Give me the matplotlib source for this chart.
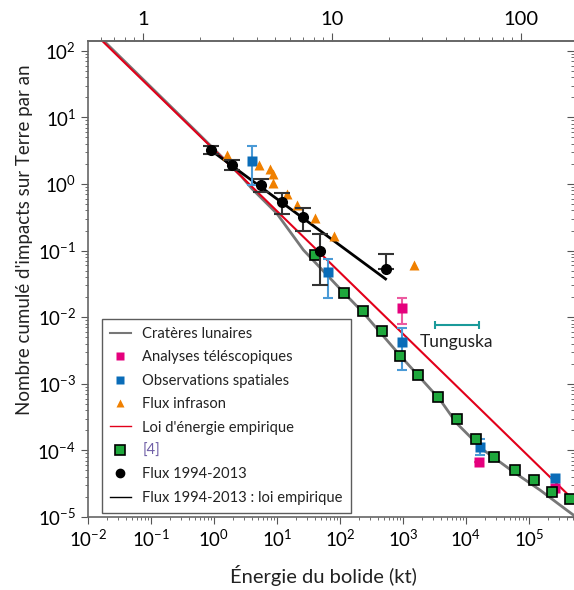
import numpy as np
import matplotlib.pyplot as plt
from matplotlib.lines import Line2D
from matplotlib import ticker

plt.rcParams['font.family'] = ['Lato', 'DejaVu Sans']
plt.rcParams['mathtext.fontset'] = 'custom'
plt.rcParams['mathtext.rm'] = 'Lato'

# --- data (energy in kt, cumulative impacts per year) ---
crater_E = [0.01, 0.56, 2.75, 4.0, 9.9, 26.3, 117, 234, 891, 3890, 7080,
            18800, 56200, 150000, 398000, 562000]
crater_N = [240, 5.75, 1.29, 0.85, 0.363, 0.102, 0.0229, 0.0117, 0.00269,
            0.000575, 0.000257, 0.000102, 4.8e-5, 2.54e-5, 1.27e-5, 1.0e-5]

law_E = [0.01, 562000]
law_N = [227, 1.65e-5]

flux_E = [0.9, 1.9, 5.5, 12.1, 25.6, 48, 537]
flux_N = [3.24, 1.95, 0.97, 0.54, 0.32, 0.10, 0.052]
flux_hi = [3.72, 2.29, 1.20, 0.72, 0.44, 0.176, 0.090]
flux_lo = [2.82, 1.62, 0.76, 0.36, 0.197, 0.030, 0.052]

flux_law_E = [0.88, 530]
flux_law_N = [3.24, 0.0375]

infra_E = [1.63, 5.12, 7.74, 8.54, 8.74, 14.6, 20.5, 40.1, 80.3, 1500]
infra_N = [2.70, 1.95, 1.66, 1.40, 1.05, 0.71, 0.48, 0.31, 0.166, 0.060]

space_E = [3.97, 63.8, 975, 16700, 259000]
space_N = [2.24, 0.0477, 0.0042, 1.14e-4, 3.9e-5]
space_hi = [3.72, 0.0756, 0.0068, 1.5e-4, 3.9e-5]
space_lo = [0.97, 0.0196, 0.0016, 8.5e-5, 3.9e-5]

tele_E = [975, 16100, 259000]
tele_N = [0.0136, 6.6e-5, 2.7e-5]
tele_hi = [0.0196, 6.6e-5, 2.7e-5]
tele_lo = [0.0078, 6.6e-5, 2.7e-5]

ref4_E = [40, 118, 236, 460, 895, 1750, 3560, 7330, 14300, 28300, 60000,
          120000, 232000, 448000]
ref4_N = [0.087, 0.0227, 0.0124, 0.0062, 0.0026, 0.00134, 0.00063, 0.0003,
          0.000147, 8.0e-5, 5.1e-5, 3.6e-5, 2.4e-5, 1.86e-5]

tunguska_E = [3200, 16000]
tunguska_N = 0.0076

blue = '#0a6cb8'
blue_err = '#4a9ad6'
pink = '#e5007d'
pink_err = '#ec5aa0'
orange = '#f08000'
green = '#1ea83c'
teal = '#1a9a9a'

fig = plt.figure(figsize=(5.74, 5.90), dpi=100)
ax = fig.add_axes([88/574, 73/590, 486/574, 476/590])
ax.set_xscale('log')
ax.set_yscale('log')
ax.set_xlim(1e-2, 5.2e5)
ax.set_ylim(1e-5, 140)

ax.plot(crater_E, crater_N, color='#777777', lw=2, zorder=2)
ax.plot(law_E, law_N, color='#e2001a', lw=1.5, zorder=2.1)
ax.plot(flux_law_E, flux_law_N, color='black', lw=2, zorder=3)

# telescopic and space-based points
t_err = [np.array(tele_N) - np.array(tele_lo), np.array(tele_hi) - np.array(tele_N)]
ax.errorbar(tele_E, tele_N, yerr=t_err, fmt='none', ecolor=pink_err, elinewidth=1.5,
            capsize=3.5, capthick=1.5, zorder=3)
ax.plot(tele_E, tele_N, 's', color=pink, ms=7, mec='none', zorder=3.2)
s_err = [np.array(space_N) - np.array(space_lo), np.array(space_hi) - np.array(space_N)]
ax.errorbar(space_E, space_N, yerr=s_err, fmt='none', ecolor=blue_err, elinewidth=1.5,
            capsize=3.5, capthick=1.5, zorder=3.3)
ax.plot(space_E, space_N, 's', color=blue, ms=7, mec='none', zorder=3.4)

ax.plot(infra_E, infra_N, '^', color=orange, ms=7.5, mec='none', zorder=3.5)
ax.plot(ref4_E, ref4_N, 's', color=green, ms=7.5, mec='black', mew=1.2, zorder=4)

f_err = [np.array(flux_N) - np.array(flux_lo), np.array(flux_hi) - np.array(flux_N)]
ax.errorbar(flux_E, flux_N, yerr=f_err, fmt='none', ecolor='#333333', elinewidth=1.5,
            capsize=6, capthick=1.5, zorder=4.5)
ax.plot(flux_E, flux_N, 'o', color='black', ms=7, zorder=5)

# Tunguska range
tc = np.sqrt(tunguska_E[0] * tunguska_E[1])
ax.errorbar([tc], [tunguska_N], xerr=[[tc - tunguska_E[0]], [tunguska_E[1] - tc]],
            fmt='none', ecolor=teal, elinewidth=1.5, capsize=3, capthick=1.5)
ax.text(7000, 0.0042, 'Tunguska', ha='center', va='center', fontsize=12.5, color='#222222')

# axes styling
for side in ['left', 'bottom', 'top']:
    ax.spines[side].set_color('#666666')
    ax.spines[side].set_linewidth(1.2)
ax.spines['right'].set_visible(False)
ax.tick_params(which='both', direction='out', color='#555555', labelsize=13.5, top=False)
ax.tick_params(which='major', length=5)
ax.tick_params(which='minor', length=2.5)
ax.xaxis.set_major_locator(ticker.LogLocator(base=10, numticks=20))
ax.xaxis.set_minor_locator(ticker.LogLocator(base=10, subs=np.arange(2, 10), numticks=20))
ax.yaxis.set_major_locator(ticker.LogLocator(base=10, numticks=20))
ax.yaxis.set_minor_locator(ticker.LogLocator(base=10, subs=np.arange(2, 10), numticks=20))
ax.xaxis.set_minor_formatter(ticker.NullFormatter())
ax.yaxis.set_minor_formatter(ticker.NullFormatter())

right = ax.secondary_yaxis('right')
right.spines['right'].set_visible(False)
right.tick_params(which='both', direction='in', labelright=False, color='#555555')
right.tick_params(which='major', length=5)
right.tick_params(which='minor', length=2.5)


def to_diam(e):
    e = np.clip(np.asarray(e, dtype=float), 1e-12, None)
    return (e / 0.075) ** (1 / 3)


def to_energy(d):
    d = np.clip(np.asarray(d, dtype=float), 1e-12, None)
    return 0.075 * d ** 3


top = ax.secondary_xaxis('top', functions=(to_diam, to_energy))
top.spines['top'].set_color('#666666')
top.spines['top'].set_linewidth(1.2)
top.xaxis.set_major_locator(ticker.FixedLocator([1, 10, 100]))
top.xaxis.set_minor_locator(ticker.FixedLocator(
    [0.6, 0.7, 0.8, 0.9] + [k * m for m in (1, 10) for k in range(2, 10)]))
top.xaxis.set_major_formatter(ticker.FuncFormatter(lambda v, p: f'{v:g}'))
top.xaxis.set_minor_formatter(ticker.NullFormatter())
top.tick_params(which='both', direction='out', color='#555555', labelsize=14.5)
top.tick_params(which='major', length=6)
top.tick_params(which='minor', length=3)

ax.set_xlabel('Énergie du bolide (kt)', fontsize=14.5, color='#222222')
ax.set_ylabel("Nombre cumulé d'impacts sur Terre par an", fontsize=13.5, color='#222222')
ax.xaxis.set_label_coords(0.4835, -0.100)
ax.yaxis.set_label_coords(-0.113, 0.582)

handles = [
    Line2D([], [], color='#777777', lw=1.5),
    Line2D([], [], ls='none', marker='s', color=pink, mec='none', ms=6),
    Line2D([], [], ls='none', marker='s', color=blue, mec='none', ms=6),
    Line2D([], [], ls='none', marker='^', color=orange, mec='none', ms=6),
    Line2D([], [], color='#e2001a', lw=1),
    Line2D([], [], ls='none', marker='s', color=green, mec='black', mew=1.2, ms=7),
    Line2D([], [], ls='none', marker='o', color='black', ms=6),
    Line2D([], [], color='black', lw=1),
]
labels = ['Cratères lunaires', 'Analyses téléscopiques', 'Observations spatiales',
          'Flux infrason', "Loi d'énergie empirique", '[4]', 'Flux 1994-2013',
          'Flux 1994-2013 : loi empirique']
leg = ax.legend(handles, labels, loc='lower left', bbox_to_anchor=(0.0288, 0.0084),
                borderaxespad=0, fontsize=10.6, frameon=True, fancybox=False,
                edgecolor='#333333', handlelength=1.4, handletextpad=0.8,
                labelspacing=0.64, borderpad=0.55)
leg.get_frame().set_linewidth(1.0)
leg.set_zorder(6)
for t in leg.get_texts():
    t.set_color('#222222')
leg.get_texts()[5].set_color('#6f5ea6')

fig.savefig('out.png', dpi=100)
